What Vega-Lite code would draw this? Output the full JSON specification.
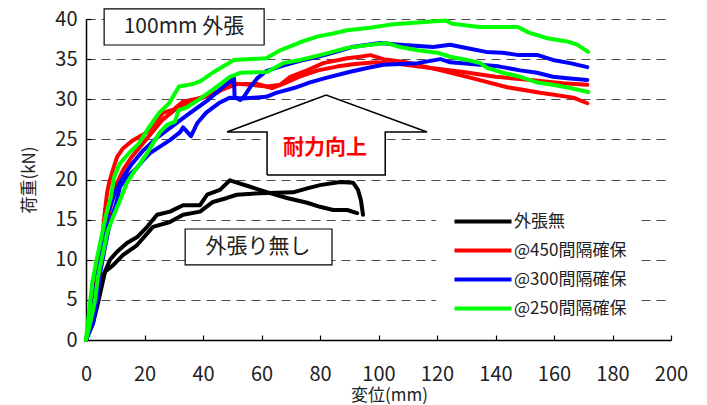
{
  "$schema": "https://vega.github.io/schema/vega-lite/v6.json",
  "width": 585,
  "height": 321,
  "autosize": {"type": "none"},
  "padding": {"left": 86, "top": 19, "right": 36, "bottom": 65},
  "background": "white",
  "config": {
    "view": {"stroke": null},
    "font": "Noto Sans CJK JP",
    "axis": {
      "domainColor": "black", "domainWidth": 1.5,
      "tickColor": "black", "tickWidth": 1.2,
      "labelFont": "Noto Sans CJK JP", "labelFontSize": 20, "labelColor": "#222",
      "titleFont": "Noto Sans CJK JP", "titleFontSize": 17, "titleFontWeight": "normal", "titleColor": "#222"
    }
  },
  "datasets": {
    "curves": [
      {"s":"外張無","c":"k1","x":0,"y":0},{"s":"外張無","c":"k1","x":1.4,"y":2.1},{"s":"外張無","c":"k1","x":3.1,"y":4.1},{"s":"外張無","c":"k1","x":5.8,"y":7.9},{"s":"外張無","c":"k1","x":8.2,"y":10.0},{"s":"外張無","c":"k1","x":10.6,"y":11.0},{"s":"外張無","c":"k1","x":14.0,"y":12.1},{"s":"外張無","c":"k1","x":17.4,"y":12.8},{"s":"外張無","c":"k1","x":20.9,"y":14.1},{"s":"外張無","c":"k1","x":24.3,"y":15.6},{"s":"外張無","c":"k1","x":28.7,"y":16.0},{"s":"外張無","c":"k1","x":33.2,"y":16.8},{"s":"外張無","c":"k1","x":39.0,"y":16.8},{"s":"外張無","c":"k1","x":41.4,"y":18.1},{"s":"外張無","c":"k1","x":45.8,"y":18.7},{"s":"外張無","c":"k1","x":49.2,"y":19.9},{"s":"外張無","c":"k1","x":56.1,"y":19.1},{"s":"外張無","c":"k1","x":62.9,"y":18.3},{"s":"外張無","c":"k1","x":68.7,"y":17.7},{"s":"外張無","c":"k1","x":75.6,"y":17.1},{"s":"外張無","c":"k1","x":80.0,"y":16.6},{"s":"外張無","c":"k1","x":84.5,"y":16.2},{"s":"外張無","c":"k1","x":89.3,"y":16.2},{"s":"外張無","c":"k1","x":92.7,"y":15.8},
      {"s":"外張無","c":"k2","x":0,"y":0},{"s":"外張無","c":"k2","x":2.4,"y":2.1},{"s":"外張無","c":"k2","x":4.1,"y":4.6},{"s":"外張無","c":"k2","x":6.5,"y":8.5},{"s":"外張無","c":"k2","x":9.2,"y":9.3},{"s":"外張無","c":"k2","x":12.7,"y":10.6},{"s":"外張無","c":"k2","x":17.4,"y":11.8},{"s":"外張無","c":"k2","x":22.9,"y":14.1},{"s":"外張無","c":"k2","x":28.7,"y":14.7},{"s":"外張無","c":"k2","x":33.2,"y":15.6},{"s":"外張無","c":"k2","x":39.0,"y":16.0},{"s":"外張無","c":"k2","x":43.4,"y":17.2},{"s":"外張無","c":"k2","x":48.2,"y":17.7},{"s":"外張無","c":"k2","x":51.6,"y":18.1},{"s":"外張無","c":"k2","x":59.5,"y":18.3},{"s":"外張無","c":"k2","x":70.8,"y":18.4},{"s":"外張無","c":"k2","x":75.6,"y":18.9},{"s":"外張無","c":"k2","x":80.0,"y":19.3},{"s":"外張無","c":"k2","x":86.9,"y":19.7},{"s":"外張無","c":"k2","x":91.3,"y":19.6},{"s":"外張無","c":"k2","x":93.0,"y":18.7},{"s":"外張無","c":"k2","x":94.0,"y":17.4},{"s":"外張無","c":"k2","x":94.7,"y":15.6},
      {"s":"@450間隔確保","c":"r1","x":0,"y":0},{"s":"@450間隔確保","c":"r1","x":1.4,"y":2.9},{"s":"@450間隔確保","c":"r1","x":3.1,"y":6.2},{"s":"@450間隔確保","c":"r1","x":4.1,"y":9.1},{"s":"@450間隔確保","c":"r1","x":5.5,"y":12.5},{"s":"@450間隔確保","c":"r1","x":6.5,"y":16.2},{"s":"@450間隔確保","c":"r1","x":7.2,"y":18.3},{"s":"@450間隔確保","c":"r1","x":7.9,"y":19.6},{"s":"@450間隔確保","c":"r1","x":9.2,"y":21.2},{"s":"@450間隔確保","c":"r1","x":10.6,"y":22.8},{"s":"@450間隔確保","c":"r1","x":12.7,"y":23.9},{"s":"@450間隔確保","c":"r1","x":16.1,"y":24.9},{"s":"@450間隔確保","c":"r1","x":20.9,"y":25.9},{"s":"@450間隔確保","c":"r1","x":24.3,"y":27.4},{"s":"@450間隔確保","c":"r1","x":26.3,"y":28.3},{"s":"@450間隔確保","c":"r1","x":29.8,"y":28.7},{"s":"@450間隔確保","c":"r1","x":33.2,"y":29.7},{"s":"@450間隔確保","c":"r1","x":38.3,"y":30.1},{"s":"@450間隔確保","c":"r1","x":44.8,"y":30.8},{"s":"@450間隔確保","c":"r1","x":49.2,"y":32.0},{"s":"@450間隔確保","c":"r1","x":56.1,"y":31.8},{"s":"@450間隔確保","c":"r1","x":62.0,"y":31.6},{"s":"@450間隔確保","c":"r1","x":66.4,"y":31.8},{"s":"@450間隔確保","c":"r1","x":69.8,"y":32.8},{"s":"@450間隔確保","c":"r1","x":75.6,"y":33.6},{"s":"@450間隔確保","c":"r1","x":81.1,"y":34.5},{"s":"@450間隔確保","c":"r1","x":89.3,"y":35.1},{"s":"@450間隔確保","c":"r1","x":93.8,"y":35.3},{"s":"@450間隔確保","c":"r1","x":97.2,"y":35.5},{"s":"@450間隔確保","c":"r1","x":101.7,"y":35.0},{"s":"@450間隔確保","c":"r1","x":109.5,"y":34.6},{"s":"@450間隔確保","c":"r1","x":121.3,"y":33.6},{"s":"@450間隔確保","c":"r1","x":132.3,"y":32.6},{"s":"@450間隔確保","c":"r1","x":144.0,"y":31.5},{"s":"@450間隔確保","c":"r1","x":155.3,"y":30.8},{"s":"@450間隔確保","c":"r1","x":166.6,"y":30.2},{"s":"@450間隔確保","c":"r1","x":171.4,"y":29.5},
      {"s":"@450間隔確保","c":"r2","x":0,"y":0},{"s":"@450間隔確保","c":"r2","x":1.7,"y":2.5},{"s":"@450間隔確保","c":"r2","x":3.4,"y":6.2},{"s":"@450間隔確保","c":"r2","x":5.1,"y":10.0},{"s":"@450間隔確保","c":"r2","x":6.8,"y":13.7},{"s":"@450間隔確保","c":"r2","x":8.5,"y":16.8},{"s":"@450間隔確保","c":"r2","x":10.3,"y":19.3},{"s":"@450間隔確保","c":"r2","x":12.7,"y":21.2},{"s":"@450間隔確保","c":"r2","x":15.4,"y":22.7},{"s":"@450間隔確保","c":"r2","x":18.8,"y":24.2},{"s":"@450間隔確保","c":"r2","x":22.2,"y":25.7},{"s":"@450間隔確保","c":"r2","x":26.0,"y":27.4},{"s":"@450間隔確保","c":"r2","x":30.4,"y":28.7},{"s":"@450間隔確保","c":"r2","x":35.6,"y":29.6},{"s":"@450間隔確保","c":"r2","x":41.4,"y":30.4},{"s":"@450間隔確保","c":"r2","x":47.2,"y":31.3},{"s":"@450間隔確保","c":"r2","x":51.6,"y":31.9},{"s":"@450間隔確保","c":"r2","x":58.5,"y":31.9},{"s":"@450間隔確保","c":"r2","x":63.6,"y":31.4},{"s":"@450間隔確保","c":"r2","x":68.0,"y":32.0},{"s":"@450間隔確保","c":"r2","x":73.5,"y":32.9},{"s":"@450間隔確保","c":"r2","x":79.3,"y":33.6},{"s":"@450間隔確保","c":"r2","x":86.2,"y":34.1},{"s":"@450間隔確保","c":"r2","x":92.0,"y":34.4},{"s":"@450間隔確保","c":"r2","x":99.0,"y":34.6},{"s":"@450間隔確保","c":"r2","x":107.0,"y":34.4},{"s":"@450間隔確保","c":"r2","x":118.0,"y":33.9},{"s":"@450間隔確保","c":"r2","x":129.0,"y":33.4},{"s":"@450間隔確保","c":"r2","x":140.0,"y":32.8},{"s":"@450間隔確保","c":"r2","x":152.0,"y":32.4},{"s":"@450間隔確保","c":"r2","x":163.0,"y":32.0},{"s":"@450間隔確保","c":"r2","x":171.4,"y":31.8},
      {"s":"@300間隔確保","c":"b1","x":0,"y":0},{"s":"@300間隔確保","c":"b1","x":2.4,"y":2.1},{"s":"@300間隔確保","c":"b1","x":3.8,"y":5.0},{"s":"@300間隔確保","c":"b1","x":4.8,"y":8.3},{"s":"@300間隔確保","c":"b1","x":6.5,"y":11.6},{"s":"@300間隔確保","c":"b1","x":8.2,"y":14.6},{"s":"@300間隔確保","c":"b1","x":10.3,"y":17.0},{"s":"@300間隔確保","c":"b1","x":11.6,"y":19.1},{"s":"@300間隔確保","c":"b1","x":14.0,"y":20.3},{"s":"@300間隔確保","c":"b1","x":16.8,"y":21.2},{"s":"@300間隔確保","c":"b1","x":19.5,"y":22.4},{"s":"@300間隔確保","c":"b1","x":21.9,"y":23.3},{"s":"@300間隔確保","c":"b1","x":25.3,"y":24.1},{"s":"@300間隔確保","c":"b1","x":28.7,"y":24.9},{"s":"@300間隔確保","c":"b1","x":32.2,"y":25.9},{"s":"@300間隔確保","c":"b1","x":33.2,"y":26.5},{"s":"@300間隔確保","c":"b1","x":35.9,"y":25.4},{"s":"@300間隔確保","c":"b1","x":38.0,"y":27.0},{"s":"@300間隔確保","c":"b1","x":41.0,"y":28.3},{"s":"@300間隔確保","c":"b1","x":45.8,"y":29.6},{"s":"@300間隔確保","c":"b1","x":49.2,"y":30.2},{"s":"@300間隔確保","c":"b1","x":53.7,"y":30.1},{"s":"@300間隔確保","c":"b1","x":61.6,"y":30.3},{"s":"@300間隔確保","c":"b1","x":65.0,"y":30.8},{"s":"@300間隔確保","c":"b1","x":71.1,"y":31.4},{"s":"@300間隔確保","c":"b1","x":76.6,"y":32.1},{"s":"@300間隔確保","c":"b1","x":82.4,"y":32.7},{"s":"@300間隔確保","c":"b1","x":90.0,"y":33.4},{"s":"@300間隔確保","c":"b1","x":96.1,"y":33.9},{"s":"@300間隔確保","c":"b1","x":101.7,"y":34.3},{"s":"@300間隔確保","c":"b1","x":113.3,"y":34.5},{"s":"@300間隔確保","c":"b1","x":121.2,"y":35.0},{"s":"@300間隔確保","c":"b1","x":124.5,"y":34.6},{"s":"@300間隔確保","c":"b1","x":134.8,"y":34.3},{"s":"@300間隔確保","c":"b1","x":141.0,"y":34.1},{"s":"@300間隔確保","c":"b1","x":148.4,"y":33.6},{"s":"@300間隔確保","c":"b1","x":154.2,"y":33.3},{"s":"@300間隔確保","c":"b1","x":159.6,"y":32.8},{"s":"@300間隔確保","c":"b1","x":165.5,"y":32.6},{"s":"@300間隔確保","c":"b1","x":171.4,"y":32.4},
      {"s":"@300間隔確保","c":"b2","x":0,"y":0},{"s":"@300間隔確保","c":"b2","x":1.7,"y":2.5},{"s":"@300間隔確保","c":"b2","x":3.1,"y":5.6},{"s":"@300間隔確保","c":"b2","x":4.4,"y":9.3},{"s":"@300間隔確保","c":"b2","x":5.8,"y":12.8},{"s":"@300間隔確保","c":"b2","x":7.5,"y":15.8},{"s":"@300間隔確保","c":"b2","x":9.6,"y":18.1},{"s":"@300間隔確保","c":"b2","x":12.0,"y":19.9},{"s":"@300間隔確保","c":"b2","x":15.4,"y":21.8},{"s":"@300間隔確保","c":"b2","x":19.5,"y":23.6},{"s":"@300間隔確保","c":"b2","x":24.3,"y":25.2},{"s":"@300間隔確保","c":"b2","x":30.8,"y":27.0},{"s":"@300間隔確保","c":"b2","x":35.6,"y":28.3},{"s":"@300間隔確保","c":"b2","x":41.7,"y":29.9},{"s":"@300間隔確保","c":"b2","x":45.8,"y":31.2},{"s":"@300間隔確保","c":"b2","x":50.6,"y":32.6},{"s":"@300間隔確保","c":"b2","x":50.8,"y":30.3},{"s":"@300間隔確保","c":"b2","x":52.7,"y":29.9},{"s":"@300間隔確保","c":"b2","x":54.0,"y":30.3},{"s":"@300間隔確保","c":"b2","x":56.1,"y":31.5},{"s":"@300間隔確保","c":"b2","x":58.5,"y":32.6},{"s":"@300間隔確保","c":"b2","x":61.6,"y":33.5},{"s":"@300間隔確保","c":"b2","x":67.4,"y":34.2},{"s":"@300間隔確保","c":"b2","x":73.2,"y":34.8},{"s":"@300間隔確保","c":"b2","x":79.3,"y":35.3},{"s":"@300間隔確保","c":"b2","x":85.5,"y":35.9},{"s":"@300間隔確保","c":"b2","x":90.9,"y":36.5},{"s":"@300間隔確保","c":"b2","x":100.6,"y":37.0},{"s":"@300間隔確保","c":"b2","x":107.4,"y":36.8},{"s":"@300間隔確保","c":"b2","x":118.7,"y":36.5},{"s":"@300間隔確保","c":"b2","x":124.5,"y":36.8},{"s":"@300間隔確保","c":"b2","x":131.3,"y":36.3},{"s":"@300間隔確保","c":"b2","x":136.8,"y":35.9},{"s":"@300間隔確保","c":"b2","x":142.3,"y":35.8},{"s":"@300間隔確保","c":"b2","x":148.0,"y":35.5},{"s":"@300間隔確保","c":"b2","x":154.5,"y":35.5},{"s":"@300間隔確保","c":"b2","x":159.6,"y":34.9},{"s":"@300間隔確保","c":"b2","x":165.5,"y":34.5},{"s":"@300間隔確保","c":"b2","x":171.4,"y":34.0},
      {"s":"@250間隔確保","c":"g1","x":0,"y":0},{"s":"@250間隔確保","c":"g1","x":1.4,"y":4.6},{"s":"@250間隔確保","c":"g1","x":2.1,"y":7.1},{"s":"@250間隔確保","c":"g1","x":3.8,"y":10.3},{"s":"@250間隔確保","c":"g1","x":5.1,"y":12.5},{"s":"@250間隔確保","c":"g1","x":6.8,"y":15.5},{"s":"@250間隔確保","c":"g1","x":8.5,"y":17.8},{"s":"@250間隔確保","c":"g1","x":9.6,"y":20.3},{"s":"@250間隔確保","c":"g1","x":11.6,"y":22.0},{"s":"@250間隔確保","c":"g1","x":14.7,"y":23.3},{"s":"@250間隔確保","c":"g1","x":18.1,"y":24.5},{"s":"@250間隔確保","c":"g1","x":21.5,"y":26.5},{"s":"@250間隔確保","c":"g1","x":25.0,"y":28.3},{"s":"@250間隔確保","c":"g1","x":28.4,"y":29.5},{"s":"@250間隔確保","c":"g1","x":31.8,"y":31.6},{"s":"@250間隔確保","c":"g1","x":36.6,"y":31.9},{"s":"@250間隔確保","c":"g1","x":39.3,"y":32.3},{"s":"@250間隔確保","c":"g1","x":44.1,"y":33.5},{"s":"@250間隔確保","c":"g1","x":50.6,"y":34.9},{"s":"@250間隔確保","c":"g1","x":61.6,"y":35.1},{"s":"@250間隔確保","c":"g1","x":66.4,"y":36.1},{"s":"@250間隔確保","c":"g1","x":73.2,"y":37.1},{"s":"@250間隔確保","c":"g1","x":79.0,"y":37.8},{"s":"@250間隔確保","c":"g1","x":84.5,"y":38.2},{"s":"@250間隔確保","c":"g1","x":89.3,"y":38.6},{"s":"@250間隔確保","c":"g1","x":97.2,"y":38.9},{"s":"@250間隔確保","c":"g1","x":104.0,"y":39.3},{"s":"@250間隔確保","c":"g1","x":114.6,"y":39.6},{"s":"@250間隔確保","c":"g1","x":123.1,"y":39.8},{"s":"@250間隔確保","c":"g1","x":125.2,"y":39.4},{"s":"@250間隔確保","c":"g1","x":134.5,"y":39.0},{"s":"@250間隔確保","c":"g1","x":147.7,"y":39.0},{"s":"@250間隔確保","c":"g1","x":151.4,"y":38.3},{"s":"@250間隔確保","c":"g1","x":157.7,"y":37.6},{"s":"@250間隔確保","c":"g1","x":164.5,"y":37.2},{"s":"@250間隔確保","c":"g1","x":167.9,"y":36.8},{"s":"@250間隔確保","c":"g1","x":171.7,"y":35.9},
      {"s":"@250間隔確保","c":"g2","x":0,"y":0},{"s":"@250間隔確保","c":"g2","x":1.7,"y":2.5},{"s":"@250間隔確保","c":"g2","x":3.1,"y":5.0},{"s":"@250間隔確保","c":"g2","x":4.1,"y":7.9},{"s":"@250間隔確保","c":"g2","x":5.5,"y":10.3},{"s":"@250間隔確保","c":"g2","x":7.2,"y":13.3},{"s":"@250間隔確保","c":"g2","x":9.2,"y":15.3},{"s":"@250間隔確保","c":"g2","x":11.6,"y":17.4},{"s":"@250間隔確保","c":"g2","x":14.0,"y":19.6},{"s":"@250間隔確保","c":"g2","x":16.1,"y":20.8},{"s":"@250間隔確保","c":"g2","x":18.5,"y":22.0},{"s":"@250間隔確保","c":"g2","x":20.9,"y":23.3},{"s":"@250間隔確保","c":"g2","x":22.9,"y":24.5},{"s":"@250間隔確保","c":"g2","x":25.3,"y":25.9},{"s":"@250間隔確保","c":"g2","x":27.7,"y":26.8},{"s":"@250間隔確保","c":"g2","x":30.4,"y":27.2},{"s":"@250間隔確保","c":"g2","x":31.6,"y":28.6},{"s":"@250間隔確保","c":"g2","x":34.5,"y":29.0},{"s":"@250間隔確保","c":"g2","x":38.3,"y":29.9},{"s":"@250間隔確保","c":"g2","x":43.4,"y":31.2},{"s":"@250間隔確保","c":"g2","x":49.2,"y":32.8},{"s":"@250間隔確保","c":"g2","x":52.7,"y":33.3},{"s":"@250間隔確保","c":"g2","x":61.9,"y":33.4},{"s":"@250間隔確保","c":"g2","x":67.4,"y":34.5},{"s":"@250間隔確保","c":"g2","x":73.2,"y":34.9},{"s":"@250間隔確保","c":"g2","x":80.0,"y":35.5},{"s":"@250間隔確保","c":"g2","x":89.3,"y":36.4},{"s":"@250間隔確保","c":"g2","x":97.2,"y":36.8},{"s":"@250間隔確保","c":"g2","x":102.9,"y":37.0},{"s":"@250間隔確保","c":"g2","x":107.4,"y":36.5},{"s":"@250間隔確保","c":"g2","x":113.3,"y":36.1},{"s":"@250間隔確保","c":"g2","x":120.1,"y":35.8},{"s":"@250間隔確保","c":"g2","x":124.5,"y":35.3},{"s":"@250間隔確保","c":"g2","x":130.3,"y":34.9},{"s":"@250間隔確保","c":"g2","x":134.8,"y":34.5},{"s":"@250間隔確保","c":"g2","x":137.1,"y":33.9},{"s":"@250間隔確保","c":"g2","x":142.6,"y":33.3},{"s":"@250間隔確保","c":"g2","x":148.4,"y":32.8},{"s":"@250間隔確保","c":"g2","x":154.2,"y":32.1},{"s":"@250間隔確保","c":"g2","x":159.6,"y":31.8},{"s":"@250間隔確保","c":"g2","x":165.5,"y":31.4},{"s":"@250間隔確保","c":"g2","x":171.7,"y":30.9}
    ],
    "boxes": [
      {"label":"100mm 外張","x":6.2,"x2":60.9,"y":36.76,"y2":41.25,"tx":33.5,"ty":39.0},
      {"label":"外張り無し","x":33.9,"x2":84.1,"y":9.35,"y2":13.83,"tx":58.8,"ty":11.6}
    ],
    "arrowHead": [
      {"x":48.2,"y":25.92,"y2":25.92},{"x":82.1,"y":30.53,"y2":25.92},{"x":116.6,"y":25.92,"y2":25.92}
    ],
    "arrowShaft": [{"x":61.9,"x2":102.3,"y":20.56,"y2":25.92}],
    "arrowOutline": [
      {"k":1,"x":61.9,"y":20.56},{"k":2,"x":61.9,"y":25.92},{"k":3,"x":48.2,"y":25.92},{"k":4,"x":82.1,"y":30.53},{"k":5,"x":116.6,"y":25.92},{"k":6,"x":102.3,"y":25.92},{"k":7,"x":102.3,"y":20.56},{"k":8,"x":61.9,"y":20.56}
    ],
    "arrowText": [{"label":"耐力向上","x":81.7,"y":23.9}]
  },
  "layer": [
    {
      "data": {"name": "curves"},
      "mark": {"type": "line", "strokeWidth": 4, "strokeCap": "round", "strokeJoin": "round"},
      "encoding": {
        "x": {"field": "x", "type": "quantitative",
          "scale": {"domain": [0, 200], "nice": false},
          "axis": {"title": "変位(mm)", "values": [0,10,20,30,40,50,60,70,80,90,100,110,120,130,140,150,160,170,180,190,200],
            "labelExpr": "datum.value % 20 === 0 ? datum.label : ''",
            "tickSize": -5, "labelPadding": 29, "titlePadding": 3, "titleX": 303, "grid": false, "labelFlush": false}},
        "y": {"field": "y", "type": "quantitative",
          "scale": {"domain": [0, 40], "nice": false},
          "axis": {"title": "荷重(kN)", "values": [0,5,10,15,20,25,30,35,40],
            "tickSize": -5, "labelPadding": 14, "titlePadding": 16, "grid": true,
            "gridColor": "#4d4d4d", "gridDash": [9, 6], "gridWidth": 1.2, "labelFlush": false}},
        "color": {"field": "s", "type": "nominal",
          "scale": {"domain": ["外張無", "@450間隔確保", "@300間隔確保", "@250間隔確保"], "range": ["#000000", "#ff0000", "#0000ff", "#00ff00"]},
          "legend": {"orient": "none", "legendX": 350, "legendY": 184, "title": null,
            "fillColor": "white", "padding": 10, "symbolType": "M0,0H10", "symbolSize": 130,
            "symbolStrokeWidth": 4, "labelOffset": 51, "labelFontSize": 17, "labelFont": "Noto Sans CJK JP",
            "labelColor": "#222", "rowPadding": 11}},
        "detail": {"field": "c"}
      }
    },
    {
      "data": {"name": "arrowHead"},
      "mark": {"type": "area", "fill": "white"},
      "encoding": {
        "x": {"field": "x", "type": "quantitative"},
        "y": {"field": "y", "type": "quantitative"},
        "y2": {"field": "y2"}
      }
    },
    {
      "data": {"name": "arrowShaft"},
      "mark": {"type": "rect", "fill": "white"},
      "encoding": {
        "x": {"field": "x", "type": "quantitative"}, "x2": {"field": "x2"},
        "y": {"field": "y", "type": "quantitative"}, "y2": {"field": "y2"}
      }
    },
    {
      "data": {"name": "arrowOutline"},
      "mark": {"type": "line", "color": "black", "strokeWidth": 1.5, "strokeJoin": "miter"},
      "encoding": {
        "x": {"field": "x", "type": "quantitative"},
        "y": {"field": "y", "type": "quantitative"},
        "order": {"field": "k", "type": "quantitative"}
      }
    },
    {
      "data": {"name": "arrowText"},
      "mark": {"type": "text", "color": "#ff0000", "fontSize": 21, "fontWeight": "bold", "font": "Noto Sans CJK JP"},
      "encoding": {
        "x": {"field": "x", "type": "quantitative"},
        "y": {"field": "y", "type": "quantitative"},
        "text": {"field": "label"}
      }
    },
    {
      "data": {"name": "boxes"},
      "mark": {"type": "rect", "fill": "white", "stroke": "black", "strokeWidth": 1.2},
      "encoding": {
        "x": {"field": "x", "type": "quantitative"}, "x2": {"field": "x2"},
        "y": {"field": "y", "type": "quantitative"}, "y2": {"field": "y2"}
      }
    },
    {
      "data": {"name": "boxes"},
      "mark": {"type": "text", "color": "#222", "fontSize": 21, "font": "Noto Sans CJK JP"},
      "encoding": {
        "x": {"field": "tx", "type": "quantitative"},
        "y": {"field": "ty", "type": "quantitative"},
        "text": {"field": "label"}
      }
    }
  ]
}
